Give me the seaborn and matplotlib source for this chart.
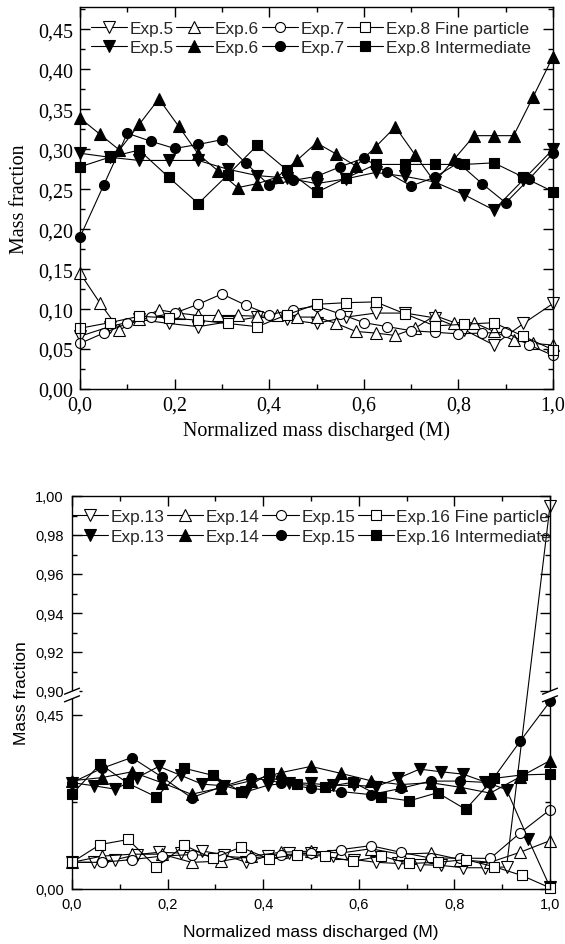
import numpy as np
import matplotlib
matplotlib.use("Agg")
import matplotlib.pyplot as plt
import seaborn as sns

# ---------------- data: top panel (Exp.5-8) ----------------
t_x16 = np.linspace(0, 1, 17)
t_x20 = np.linspace(0, 1, 21)
t_x24 = np.linspace(0, 1, 25)

t_exp5_fine = [0.066, 0.078, 0.087, 0.082, 0.078, 0.084, 0.090, 0.087, 0.082,
               0.090, 0.095, 0.095, 0.089, 0.074, 0.055, 0.082, 0.107]
t_exp6_fine = [0.145, 0.108, 0.074, 0.087, 0.099, 0.095, 0.092, 0.092, 0.092,
               0.091, 0.092, 0.090, 0.090, 0.082, 0.072, 0.070, 0.067, 0.076,
               0.092, 0.083, 0.083, 0.072, 0.061, 0.057, 0.055]
t_exp7_fine = [0.057, 0.070, 0.082, 0.090, 0.095, 0.106, 0.119, 0.105, 0.093,
               0.099, 0.104, 0.094, 0.083, 0.078, 0.073, 0.071, 0.069, 0.070,
               0.071, 0.055, 0.042]
t_exp8_fine = [0.076, 0.083, 0.091, 0.089, 0.086, 0.082, 0.078, 0.093, 0.106,
               0.108, 0.109, 0.094, 0.079, 0.081, 0.083, 0.066, 0.049]

t_exp5_int = [0.295, 0.290, 0.286, 0.286, 0.286, 0.275, 0.267, 0.264, 0.257,
              0.263, 0.271, 0.266, 0.259, 0.243, 0.224, 0.262, 0.300]
t_exp6_int = [0.339, 0.319, 0.299, 0.331, 0.363, 0.329, 0.294, 0.273, 0.252,
              0.257, 0.265, 0.286, 0.308, 0.294, 0.279, 0.303, 0.328, 0.293,
              0.259, 0.288, 0.317, 0.317, 0.317, 0.366, 0.416]
t_exp7_int = [0.190, 0.255, 0.320, 0.310, 0.301, 0.306, 0.312, 0.283, 0.255,
              0.261, 0.266, 0.278, 0.289, 0.271, 0.254, 0.265, 0.283, 0.257,
              0.233, 0.263, 0.295]
t_exp8_int = [0.278, 0.290, 0.299, 0.265, 0.232, 0.268, 0.305, 0.274, 0.246,
              0.264, 0.281, 0.281, 0.281, 0.281, 0.283, 0.265, 0.247]

# ---------------- data: bottom panel (Exp.13-16) ----------------
b_x16 = np.linspace(0, 1, 17)
b_x17 = np.linspace(0, 1, 18)
b_x22 = np.linspace(0, 1, 23)
b_x13f = list(np.linspace(0, 1, 23)[:21]) + [1.0]

b_exp13_fine = [0.069, 0.069, 0.076, 0.089, 0.095, 0.093, 0.098, 0.089, 0.069,
                0.085, 0.093, 0.093, 0.085, 0.076, 0.069, 0.066, 0.063, 0.061,
                0.055, 0.055, 0.057, 0.995]
b_exp14_fine = [0.069, 0.085, 0.090, 0.090, 0.069, 0.072, 0.085, 0.095, 0.098,
                0.093, 0.104, 0.090, 0.093, 0.076, 0.069, 0.095, 0.125]
b_exp15_fine = [0.069, 0.069, 0.076, 0.085, 0.089, 0.085, 0.080, 0.089, 0.092,
                0.102, 0.112, 0.095, 0.080, 0.080, 0.079, 0.145, 0.205]
b_exp16_fine = [0.069, 0.115, 0.128, 0.056, 0.113, 0.079, 0.108, 0.078, 0.089,
                0.085, 0.072, 0.085, 0.066, 0.069, 0.076, 0.058, 0.035, 0.003]

b_exp13_int = [0.275, 0.267, 0.258, 0.288, 0.317, 0.294, 0.271, 0.267, 0.251,
               0.268, 0.275, 0.273, 0.268, 0.268, 0.265, 0.286, 0.310, 0.303,
               0.297, 0.277, 0.257, 0.129, 0.005]
b_exp14_int = [0.280, 0.288, 0.303, 0.275, 0.245, 0.262, 0.280, 0.301, 0.317,
               0.299, 0.280, 0.270, 0.275, 0.263, 0.248, 0.290, 0.332]
b_exp15_int = [0.275, 0.312, 0.340, 0.290, 0.236, 0.264, 0.288, 0.275, 0.260,
               0.252, 0.244, 0.260, 0.279, 0.279, 0.275, 0.382, 0.485]
b_exp16_int = [0.245, 0.323, 0.273, 0.238, 0.312, 0.294, 0.252, 0.299, 0.271,
               0.264, 0.276, 0.238, 0.228, 0.249, 0.206, 0.286, 0.295, 0.297]

# ---------------- tick labels ----------------
x_ticks = [0.0, 0.2, 0.4, 0.6, 0.8, 1.0]
x_ticklabels = ["0,0", "0,2", "0,4", "0,6", "0,8", "1,0"]
t_yticks = [0.00, 0.05, 0.10, 0.15, 0.20, 0.25, 0.30, 0.35, 0.40, 0.45]
t_yticklabels = ["0,00", "0,05", "0,10", "0,15", "0,20", "0,25", "0,30",
                 "0,35", "0,40", "0,45"]
b_yticks = [0.00, 0.45, 0.90, 0.92, 0.94, 0.96, 0.98, 1.00]
b_yticklabels = ["0,00", "0,45", "0,90", "0,92", "0,94", "0,96", "0,98", "1,00"]

top_labels = ["Exp.5", "Exp.5", "Exp.6", "Exp.6", "Exp.7", "Exp.7",
              "Exp.8 Fine particle", "Exp.8 Intermediate"]
bot_labels = ["Exp.13", "Exp.13", "Exp.14", "Exp.14", "Exp.15", "Exp.15",
              "Exp.16 Fine particle", "Exp.16 Intermediate"]

# ---------------- style ----------------
sns.set_theme(style="ticks")
plt.rcParams['font.family'] = ['Liberation Sans', 'DejaVu Sans']
plt.rcParams['axes.linewidth'] = 1.0
SERIF = ['Liberation Serif', 'DejaVu Serif']
SANS = ['Liberation Sans', 'DejaVu Sans']

fig = plt.figure(figsize=(5.65, 9.45), dpi=100)
axt = fig.add_axes([80/565, 1-390/945, 473/565, 382/945])
axb = fig.add_axes([72/565, 1-890/945, 478/565, 393/945])

# broken y axis for bottom panel (piecewise linear scale)
bp_y = [-1.0, 0.0, 0.49, 0.90, 1.00, 2.0]
bp_px = [-386.7, 0.0, 189.5, 198.0, 393.0, 2343.0]


def fwd(v):
    return np.interp(v, bp_y, bp_px)


def inv(p):
    return np.interp(p, bp_px, bp_y)


axb.set_yscale('function', functions=(fwd, inv))
axb.set_ylim(0, 1.0)
axt.set_ylim(0, 0.478)
for ax in (axt, axb):
    ax.set_xlim(0, 1)


def draw(ax, x, y, marker, filled, ms):
    sns.lineplot(x=np.asarray(x, float), y=np.asarray(y, float), ax=ax,
                 estimator=None, sort=False, color='black', lw=0.8,
                 marker=marker, markersize=ms,
                 markerfacecolor='black' if filled else 'white',
                 markeredgecolor='black', markeredgewidth=0.8,
                 clip_on=False, legend=False)
    return ax.lines[-1]


MT, MC, MS = 8, 7.2, 6.8
th = []
th.append(draw(axt, t_x16, t_exp5_fine, 'v', False, MT))
th.append(draw(axt, t_x16, t_exp5_int, 'v', True, MT))
th.append(draw(axt, t_x24, t_exp6_fine, '^', False, MT))
th.append(draw(axt, t_x24, t_exp6_int, '^', True, MT))
th.append(draw(axt, t_x20, t_exp7_fine, 'o', False, MC))
th.append(draw(axt, t_x20, t_exp7_int, 'o', True, MC))
th.append(draw(axt, t_x16, t_exp8_fine, 's', False, MS))
th.append(draw(axt, t_x16, t_exp8_int, 's', True, MS))

bh = []
bh.append(draw(axb, b_x13f, b_exp13_fine, 'v', False, MT))
bh.append(draw(axb, b_x22, b_exp13_int, 'v', True, MT))
bh.append(draw(axb, b_x16, b_exp14_fine, '^', False, MT))
bh.append(draw(axb, b_x16, b_exp14_int, '^', True, MT))
bh.append(draw(axb, b_x16, b_exp15_fine, 'o', False, MC))
bh.append(draw(axb, b_x16, b_exp15_int, 'o', True, MC))
bh.append(draw(axb, b_x17, b_exp16_fine, 's', False, MS))
bh.append(draw(axb, b_x17, b_exp16_int, 's', True, MS))

# ---------------- ticks ----------------
for ax in (axt, axb):
    ax.tick_params(which='both', direction='in', top=True, right=True,
                   width=1.0, colors='black')
    ax.tick_params(which='major', length=7)
    ax.tick_params(which='minor', length=3.5)
    for s in ax.spines.values():
        s.set_color('black')
        s.set_linewidth(1.0)
    ax.set_xticks(x_ticks)
    ax.set_xticks([0.1, 0.3, 0.5, 0.7, 0.9], minor=True)
    ax.grid(False)

axt.set_xticklabels(x_ticklabels, fontfamily=SERIF, fontsize=14.4)
axt.set_yticks(t_yticks)
axt.set_yticks(list(np.arange(0.025, 0.478, 0.05)), minor=True)
axt.set_yticklabels(t_yticklabels, fontfamily=SERIF, fontsize=14.4)
axt.tick_params(axis='both', which='major', pad=5)

axb.set_xticklabels(x_ticklabels, fontfamily=SANS, fontsize=10.5)
axb.set_yticks(b_yticks)
axb.set_yticks([0.225, 0.91, 0.93, 0.95, 0.97, 0.99], minor=True)
axb.set_yticklabels(b_yticklabels, fontfamily=SANS, fontsize=10.5)
axb.tick_params(axis='both', which='major', pad=6)

# ---------------- labels ----------------
axt.set_xlabel("Normalized mass discharged (M)", fontfamily=SERIF,
               fontsize=14.4, labelpad=4, color='black')
axt.set_ylabel("Mass fraction", fontfamily=SERIF, fontsize=14.4, color='black')
axt.yaxis.set_label_coords(-0.107, 0.5)

axb.set_xlabel("Normalized mass discharged (M)", fontfamily=SANS,
               fontsize=12.5, labelpad=9, color='black')
axb.set_ylabel("Mass fraction", fontfamily=SANS, fontsize=12.5, color='black')
axb.yaxis.set_label_coords(-0.09, 0.5)

# ---------------- legends ----------------
axt.legend(th, top_labels, ncol=4, loc='upper left',
           bbox_to_anchor=(0.023, 0.964), frameon=False, borderpad=0,
           borderaxespad=0, handlelength=2.1, handletextpad=0.15,
           columnspacing=0.15, labelspacing=0.22, numpoints=1,
           prop={'family': SANS, 'size': 12.4})
axb.legend(bh, bot_labels, ncol=4, loc='upper left',
           bbox_to_anchor=(0.0, 0.967), frameon=False, borderpad=0,
           borderaxespad=0, handlelength=2.1, handletextpad=0.15,
           columnspacing=0.15, labelspacing=0.28, numpoints=1,
           prop={'family': SANS, 'size': 12.4})

# ---------------- break marks ----------------
gy = 194.0 / 393.0
dx = 7.5 / 478.0
dy = 3.0 / 393.0
off = 3.8 / 393.0
for xc in (0.0, 1.0):
    poly_x = [xc - dx, xc + dx, xc + dx, xc - dx]
    poly_y = [gy - off - dy, gy - off + dy, gy + off + dy, gy + off - dy]
    axb.fill(poly_x, poly_y, color='white', transform=axb.transAxes,
             clip_on=False, zorder=5, lw=0)
    for o in (-off, off):
        axb.plot([xc - dx, xc + dx], [gy + o - dy, gy + o + dy],
                 color='black', lw=1.0, transform=axb.transAxes,
                 clip_on=False, zorder=6)

fig.savefig("out.png", dpi=100, facecolor='white')
